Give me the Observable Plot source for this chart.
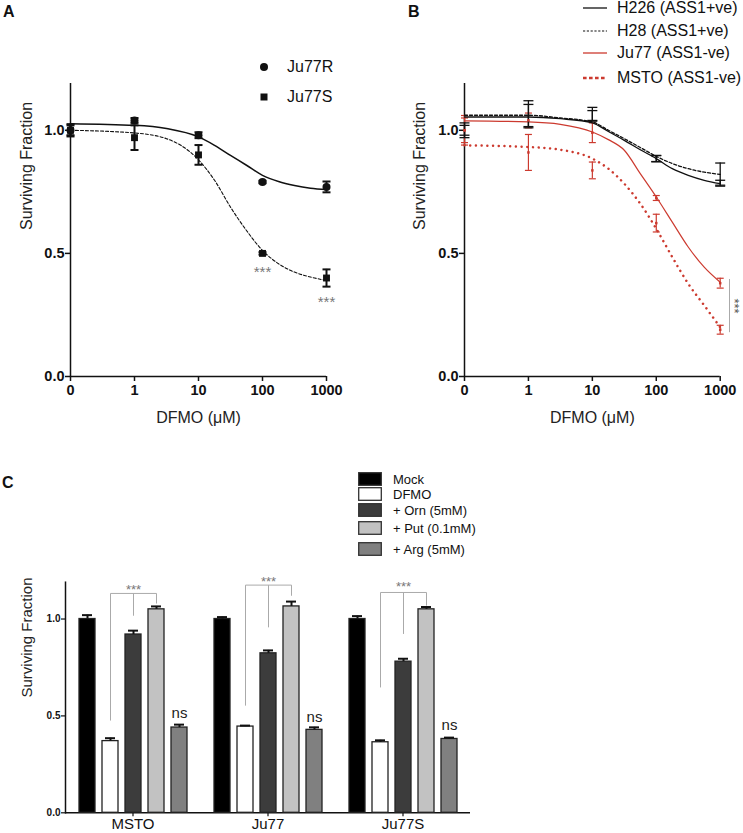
<!DOCTYPE html>
<html><head><meta charset="utf-8">
<script src="https://cdn.jsdelivr.net/npm/d3@7"></script>
<script src="https://cdn.jsdelivr.net/npm/@observablehq/plot@0.6"></script>
<style>
body{margin:0;background:#fff;font-family:"Liberation Sans",Arial,sans-serif;color:#111;}
#fig{position:relative;width:743px;height:833px;overflow:hidden;background:#fff;}
.panel{position:absolute;}
.plab{position:absolute;font-weight:bold;font-size:16px;line-height:16px;}
.row{position:absolute;white-space:nowrap;line-height:1;}
.row svg{position:absolute;}
.row span{position:absolute;transform:translateY(-50%);}
</style></head><body><div id="fig"></div>
<script>
// ---------- Panel A data ----------
const doses = [0, 1, 10, 100, 1000];
const doseTicks = [0.1, 1, 10, 100, 1000];          // "0" is drawn one decade below 1
const doseTickLabels = ["0", "1", "10", "100", "1000"];
const ju77R = [1.00, 1.04, 0.98, 0.79, 0.77];
const ju77RErr = [0.025, 0.01, 0.012, 0.005, 0.022];
const ju77S = [1.00, 0.97, 0.90, 0.50, 0.40];
const ju77SErr = [0.02, 0.05, 0.04, 0.005, 0.035];
const curveDoses = [0.1, 1, 3.16, 10, 17.8, 31.6, 56.2, 100, 178, 316, 562, 1000];
const fitJu77R = [1.027, 1.020, 1.007, 0.973, 0.939, 0.898, 0.858, 0.817, 0.792, 0.776, 0.765, 0.759];
const fitJu77S = [1.000, 0.989, 0.966, 0.880, 0.797, 0.688, 0.593, 0.512, 0.458, 0.424, 0.404, 0.390];
const starsA = [{dose: 100, y: 0.439}, {dose: 1000, y: 0.317}];

// ---------- Panel B data ----------
const h226 = [1.00, 1.060, 1.060, 0.885, 0.787];
const h226Err = [0.03, 0.045, 0.02, 0.013, 0.01];
const h28 = [1.00, 1.065, 1.065, 0.885, 0.820];
const h28Err = [0.02, 0.055, 0.028, 0.012, 0.047];
const ju77 = [1.00, 1.040, 0.990, 0.725, 0.379];
const ju77Err = [0.06, 0.03, 0.04, 0.01, 0.02];
const msto = [1.00, 0.910, 0.837, 0.623, 0.190];
const mstoErr = [0.05, 0.073, 0.034, 0.036, 0.018];
const fitH226 = [1.054, 1.054, 1.047, 1.030, 0.995, 0.959, 0.921, 0.885, 0.844, 0.817, 0.797, 0.783];
const fitH28  = [1.061, 1.061, 1.050, 1.034, 1.000, 0.966, 0.930, 0.894, 0.865, 0.844, 0.830, 0.821];
const fitJu77 = [1.038, 1.034, 1.024, 0.993, 0.962, 0.919, 0.824, 0.729, 0.627, 0.526, 0.444, 0.383];
const fitMSTO = [0.939, 0.932, 0.921, 0.885, 0.844, 0.783, 0.702, 0.600, 0.485, 0.377, 0.289, 0.200];
const sigB = {dose: 1000, y1: 0.178, y2: 0.394, star: 0.286};

// ---------- Panel C data ----------
const cGroups = ["MSTO", "Ju77", "Ju77S"];
const cTreatments = ["Mock", "DFMO", "+ Orn (5mM)", "+ Put (0.1mM)", "+ Arg (5mM)"];
const cColors = ["#000000", "#ffffff", "#3c3c3c", "#c2c2c2", "#808080"];
const cMSTO = [1.00, 0.370, 0.920, 1.050, 0.440];
const cMSTOErr = [0.02, 0.015, 0.02, 0.015, 0.015];
const cJu77 = [1.00, 0.445, 0.823, 1.065, 0.428];
const cJu77Err = [0.01, 0.005, 0.015, 0.025, 0.013];
const cJu77S = [1.00, 0.364, 0.780, 1.050, 0.381];
const cJu77SErr = [0.015, 0.01, 0.015, 0.012, 0.007];
const bracketTop = [1.132, 1.175, 1.137];
const bracketLeftEnd = [0.476, 0.553, 0.647];
const bracketMidEnd = [1.017, 0.957, 0.923];
const bracketRightEnd = [1.080, 1.120, 1.069];
const bracketStarY = [1.170, 1.212, 1.185];
const nsY = [0.513, 0.493, 0.450];

// ---------- helpers ----------
const FONT = "Liberation Sans, Arial, sans-serif";
const RED = "#cc3a2f";
const pos = d => d === 0 ? 0.1 : d;
const fmtDose = d => doseTickLabels[doseTicks.indexOf(d)];
const cap = {draw(ctx, size) { const r = Math.sqrt(size / Math.PI); ctx.moveTo(-r, 0); ctx.lineTo(r, 0); }};
const series = (vals, errs, name) => doses.map((d, i) => ({name, x: pos(d), y: vals[i], lo: vals[i] - errs[i], hi: vals[i] + errs[i]}));
const curve = (vals) => curveDoses.map((d, i) => ({x: d, y: vals[i]}));
const errMarks = (data, color, w, r) => [
  Plot.ruleX(data, {x: "x", y1: "lo", y2: "hi", stroke: color, strokeWidth: w}),
  Plot.dot(data, {x: "x", y: "lo", symbol: cap, r, stroke: color, strokeWidth: w, fill: "none"}),
  Plot.dot(data, {x: "x", y: "hi", symbol: cap, r, stroke: color, strokeWidth: w, fill: "none"})
];
const doseAxes = (ml) => [
  Plot.ruleX([0.1], {strokeWidth: 1.5}),
  Plot.ruleY([0], {strokeWidth: 1.5}),
  Plot.axisY({ticks: [0, 0.5, 1], tickFormat: d => d.toFixed(1), tickSize: 5, tickPadding: 1, fontSize: 14.5, fontWeight: "bold", strokeWidth: 1.5, label: null}),
  Plot.axisX({ticks: doseTicks, tickFormat: fmtDose, tickSize: 5, tickPadding: 3, fontSize: 14.5, fontWeight: "bold", strokeWidth: 1.5, label: null}),
  Plot.text(["Surviving Fraction"], {text: d => d, frameAnchor: "left", rotate: -90, dx: -ml, fontSize: 16, fill: "#222"}),
  Plot.text(["DFMO (μM)"], {text: d => d, frameAnchor: "bottom", dy: 46, fontSize: 16, fill: "#222"})
];

const fig = document.getElementById("fig");
function place(node, left, top) { node.classList.add("panel"); node.style.left = left + "px"; node.style.top = top + "px"; fig.appendChild(node); }
function label(t, left, top) { const d = document.createElement("div"); d.className = "plab"; d.textContent = t; d.style.left = left + "px"; d.style.top = top + "px"; fig.appendChild(d); }
function legendRow(svgInner, sw, sh, swLeft, textLeft, cy, text, fontSize) {
  const row = document.createElement("div"); row.className = "row"; row.style.left = "0px"; row.style.top = cy + "px";
  row.innerHTML = `<svg width="${sw}" height="${sh}" style="left:${swLeft}px;top:${-sh / 2}px;overflow:visible">${svgInner}</svg><span style="left:${textLeft}px;font-size:${fontSize}px">${text}</span>`;
  fig.appendChild(row);
}

// ---------- Panel A ----------
const sR = series(ju77R, ju77RErr, "Ju77R");
const sS = series(ju77S, ju77SErr, "Ju77S");
const plotA = Plot.plot({
  width: 370, height: 440, marginLeft: 70, marginRight: 44, marginTop: 83, marginBottom: 64,
  style: {fontFamily: FONT, background: "transparent", overflow: "visible", color: "#111"},
  x: {type: "log", domain: [0.1, 1000]},
  y: {domain: [0, 1.19]},
  marks: [
    ...doseAxes(44),
    Plot.line(curve(fitJu77R), {x: "x", y: "y", curve: "monotone-x", stroke: "#111", strokeWidth: 1.5}),
    Plot.line(curve(fitJu77S), {x: "x", y: "y", curve: "monotone-x", stroke: "#111", strokeWidth: 1.1, strokeDasharray: "3,2"}),
    ...errMarks(sR, "#111", 2, 4),
    ...errMarks(sS, "#111", 2, 4),
    Plot.dot(sR, {x: "x", y: "y", r: 4, fill: "#111"}),
    Plot.dot(sS, {x: "x", y: "y", r: 3.9, symbol: "square", fill: "#111"}),
    Plot.text(starsA, {x: "dose", y: "y", text: () => "***", fontSize: 15, fill: "#777", dy: 4})
  ]
});
place(plotA, 0, 0);
label("A", 3, 4);
legendRow(`<circle cx="5" cy="5" r="4" fill="#111"/>`, 10, 10, 259, 287, 67, "Ju77R", 16);
legendRow(`<rect x="1.5" y="1.5" width="7" height="7" fill="#111"/>`, 10, 10, 259, 287, 97, "Ju77S", 16);

// ---------- Panel B ----------
const bH226 = series(h226, h226Err, "H226");
const bH28 = series(h28, h28Err, "H28");
const bJu77 = series(ju77, ju77Err, "Ju77");
const bMSTO = series(msto, mstoErr, "MSTO");
const plotB = Plot.plot({
  width: 373, height: 440, marginLeft: 94, marginRight: 23.3, marginTop: 83, marginBottom: 64,
  style: {fontFamily: FONT, background: "transparent", overflow: "visible", color: "#111"},
  x: {type: "log", domain: [0.1, 1000]},
  y: {domain: [0, 1.19]},
  marks: [
    ...doseAxes(45),
    ...errMarks(bJu77, RED, 1.2, 3.5),
    ...errMarks(bMSTO, RED, 1.2, 3.5),
    Plot.line(curve(fitJu77), {x: "x", y: "y", curve: "monotone-x", stroke: RED, strokeWidth: 1.2}),
    Plot.line(curve(fitMSTO), {x: "x", y: "y", curve: "monotone-x", stroke: RED, strokeWidth: 2.5, strokeDasharray: "0.01,5.7", strokeLinecap: "round"}),
    Plot.line(curve(fitH226), {x: "x", y: "y", curve: "monotone-x", stroke: "#111", strokeWidth: 1.3}),
    Plot.line(curve(fitH28), {x: "x", y: "y", curve: "monotone-x", stroke: "#111", strokeWidth: 1.3, strokeDasharray: "3,2"}),
    ...errMarks(bH226, "#111", 1.3, 5),
    ...errMarks(bH28, "#111", 1.3, 5),
    Plot.dot(bJu77, {x: "x", y: "y", r: 1.4, symbol: "square", fill: RED}),
    Plot.dot(bMSTO, {x: "x", y: "y", r: 1.4, symbol: "square", fill: RED}),
    Plot.ruleX([sigB], {x: "dose", y1: "y1", y2: "y2", dx: 9.3, stroke: "#aaa", strokeWidth: 1}),
    Plot.text([sigB], {x: "dose", y: "star", text: () => "***", rotate: 90, dx: 14, fontSize: 13, fill: "#555"})
  ]
});
place(plotB, 370, 0);
label("B", 408, 4);
legendRow(`<line x1="0" x2="24" y1="3" y2="3" stroke="#111" stroke-width="1.3"/>`, 24, 6, 583, 617, 8.3, "H226 (ASS1+ve)", 16);
legendRow(`<line x1="0" x2="24" y1="3" y2="3" stroke="#111" stroke-width="1.2" stroke-dasharray="2.2,1.6"/>`, 24, 6, 583, 617, 30.5, "H28 (ASS1+ve)", 16);
legendRow(`<line x1="0" x2="24" y1="3" y2="3" stroke="${RED}" stroke-width="1.3"/>`, 24, 6, 583, 617, 53.3, "Ju77 (ASS1-ve)", 16);
legendRow(`<line x1="0" x2="24" y1="3" y2="3" stroke="${RED}" stroke-width="2.3" stroke-dasharray="3.6,2.4"/>`, 24, 6, 583, 617, 78.3, "MSTO (ASS1-ve)", 16);

// ---------- Panel C ----------
const cVals = [cMSTO, cJu77, cJu77S];
const cErrs = [cMSTOErr, cJu77Err, cJu77SErr];
const cData = cGroups.flatMap((g, gi) => cTreatments.map((t, ti) => ({group: g, treatment: t, value: cVals[gi][ti], top: cVals[gi][ti] + cErrs[gi][ti]})));
const links = cGroups.flatMap((g, gi) => [
  {group: g, a: cTreatments[1], b: cTreatments[3], y1: bracketTop[gi], y2: bracketTop[gi]},
  {group: g, a: cTreatments[1], b: cTreatments[1], y1: bracketLeftEnd[gi], y2: bracketTop[gi]},
  {group: g, a: cTreatments[2], b: cTreatments[2], y1: bracketMidEnd[gi], y2: bracketTop[gi]},
  {group: g, a: cTreatments[3], b: cTreatments[3], y1: bracketRightEnd[gi], y2: bracketTop[gi]}
]);
const stars = cGroups.map((g, gi) => ({group: g, treatment: cTreatments[2], y: bracketStarY[gi]}));
const nsLab = cGroups.map((g, gi) => ({group: g, treatment: cTreatments[4], y: nsY[gi]}));
const plotC = Plot.plot({
  width: 480, height: 273, marginLeft: 65, marginRight: 10, marginTop: 21.7, marginBottom: 20.7,
  style: {fontFamily: FONT, background: "transparent", overflow: "visible", color: "#111"},
  fx: {domain: cGroups, padding: 0, label: null},
  x: {domain: cTreatments, paddingInner: 0.31, paddingOuter: 0.47, axis: null},
  y: {domain: [0, 1.19]},
  color: {domain: cTreatments, range: cColors},
  marks: [
    Plot.frame({anchor: "left", facetAnchor: "left", strokeWidth: 1.5}),
    Plot.ruleY([0], {strokeWidth: 1.5}),
    Plot.axisY({ticks: [0, 0.5, 1], tickFormat: d => d.toFixed(1), tickSize: 4, tickPadding: 1, fontSize: 10, fontWeight: "bold", strokeWidth: 1.2, label: null}),
    Plot.axisFx({anchor: "bottom", tickSize: 4, tickPadding: 2, fontSize: 15, strokeWidth: 1.2, label: null}),
    Plot.text(["Surviving Fraction"], {text: d => d, frameAnchor: "left", rotate: -90, dx: -38, fontSize: 15, fill: "#222", facetAnchor: "left"}),
    Plot.barY(cData, {fx: "group", x: "treatment", y: "value", fill: "treatment", stroke: "#222", strokeWidth: 1.3}),
    Plot.ruleX(cData, {fx: "group", x: "treatment", y1: "value", y2: "top", stroke: "#111", strokeWidth: 2}),
    Plot.tickY(cData, {fx: "group", x: "treatment", y: "top", stroke: "#111", strokeWidth: 2, insetLeft: 3, insetRight: 3}),
    Plot.link(links, {fx: "group", x1: "a", x2: "b", y1: "y1", y2: "y2", stroke: "#aaa", strokeWidth: 1}),
    Plot.text(stars, {fx: "group", x: "treatment", y: "y", text: () => "***", fontSize: 13, fill: "#777", dy: 4}),
    Plot.text(nsLab, {fx: "group", x: "treatment", y: "y", text: () => "ns", fontSize: 15, fill: "#222"})
  ]
});
place(plotC, 0, 560);
label("C", 2, 475);
const boxes = cTreatments.map((t, i) => `<rect x="0.7" y="0.7" width="22.6" height="12.6" fill="${cColors[i]}" stroke="#333" stroke-width="1.3"/>`);
const rowsY = [478.5, 494, 509.7, 528, 549];
cTreatments.forEach((t, i) => legendRow(boxes[i], 24, 14, 358, 393, rowsY[i], t, 13));
</script></body></html>
